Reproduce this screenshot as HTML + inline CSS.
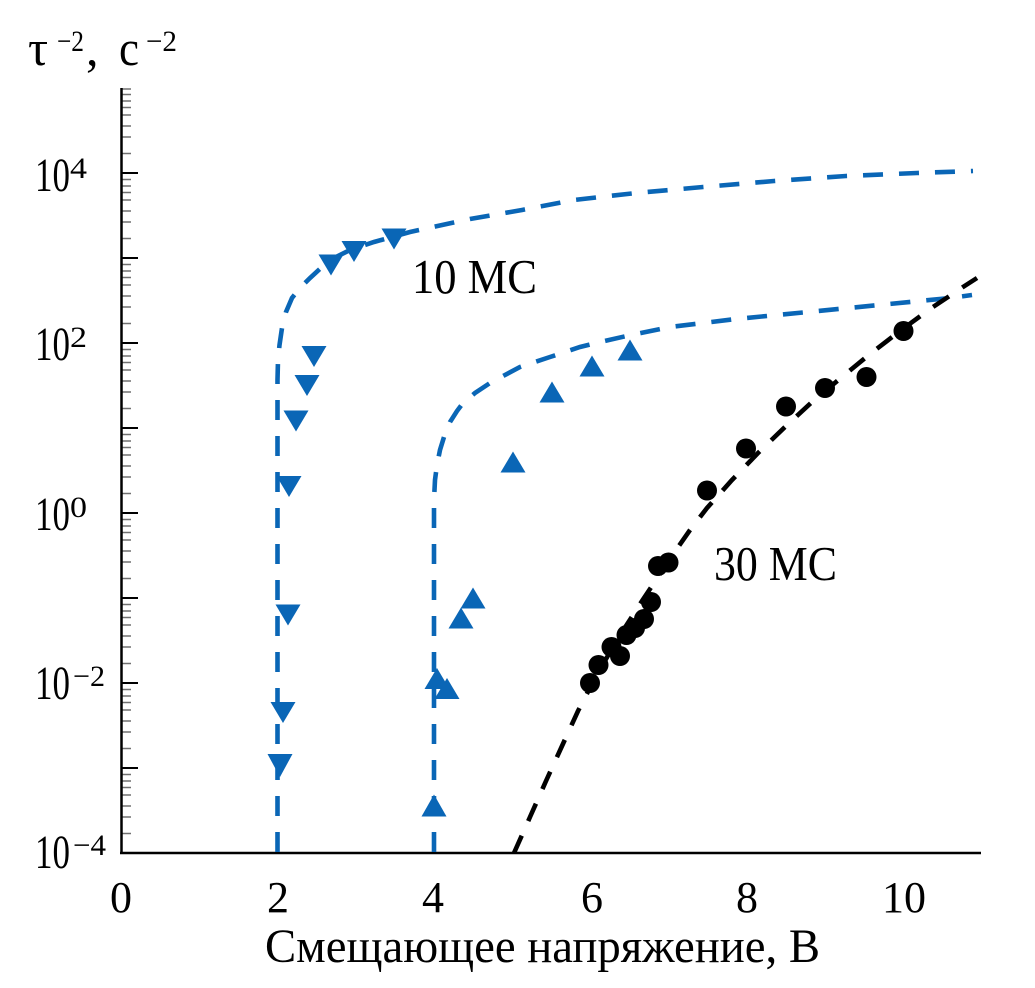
<!DOCTYPE html>
<html>
<head>
<meta charset="utf-8">
<style>
  html, body { margin:0; padding:0; background:#fff; }
  svg { display:block; }
  text { font-family: "Liberation Serif", "DejaVu Serif", serif; fill:#000; }
</style>
</head>
<body>
<svg width="1035" height="988" viewBox="0 0 1035 988" xmlns="http://www.w3.org/2000/svg">
  <rect x="0" y="0" width="1035" height="988" fill="#fff"/>

  <!-- Y axis title -->
  <text x="28" y="65" font-size="50">τ</text>
  <text x="57" y="51" font-size="30" textLength="27" lengthAdjust="spacingAndGlyphs">−2</text>
  <text x="86" y="65" font-size="50">,</text>
  <text x="119" y="65" font-size="50" textLength="20" lengthAdjust="spacingAndGlyphs">с</text>
  <text x="146" y="51" font-size="30" textLength="31" lengthAdjust="spacingAndGlyphs">−2</text>

  <!-- Y tick labels -->
  <g font-size="48">
    <text x="35" y="191" textLength="35" lengthAdjust="spacingAndGlyphs">10</text>
    <text x="35" y="360" textLength="35" lengthAdjust="spacingAndGlyphs">10</text>
    <text x="35" y="530" textLength="35" lengthAdjust="spacingAndGlyphs">10</text>
    <text x="35" y="699" textLength="35" lengthAdjust="spacingAndGlyphs">10</text>
    <text x="35" y="868" textLength="35" lengthAdjust="spacingAndGlyphs">10</text>
  </g>
  <g font-size="30">
    <text x="70" y="178" textLength="17" lengthAdjust="spacingAndGlyphs">4</text>
    <text x="70" y="347" textLength="17" lengthAdjust="spacingAndGlyphs">2</text>
    <text x="70" y="517" textLength="17" lengthAdjust="spacingAndGlyphs">0</text>
    <text x="73" y="686" textLength="32" lengthAdjust="spacingAndGlyphs">−2</text>
    <text x="73" y="855" textLength="33" lengthAdjust="spacingAndGlyphs">−4</text>
  </g>

  <!-- X tick labels -->
  <g font-size="44" text-anchor="middle">
    <text x="121" y="912">0</text>
    <text x="278" y="912">2</text>
    <text x="433" y="912">4</text>
    <text x="592" y="912">6</text>
    <text x="747" y="912">8</text>
    <text x="904" y="912">10</text>
  </g>

  <!-- X axis title -->
  <text x="265" y="962" font-size="48" textLength="555" lengthAdjust="spacingAndGlyphs">Смещающее напряжение, В</text>

  <!-- Annotations -->
  <text x="412" y="293" font-size="49" textLength="125" lengthAdjust="spacingAndGlyphs">10 МС</text>
  <text x="714" y="580" font-size="49" textLength="123" lengthAdjust="spacingAndGlyphs">30 МС</text>

  <!-- Minor ticks -->
  <g stroke="#707070" stroke-width="1.6">
    <path d="
      M121 833.5H131 M121 817H131 M121 806H131 M121 795H131 M121 787.5H131 M121 781H131 M121 774.5H131
      M121 748.5H131 M121 732H131 M121 721H131 M121 710H131 M121 702.5H131 M121 696H131 M121 689.5H131
      M121 663.5H131 M121 647H131 M121 636H131 M121 625H131 M121 617.5H131 M121 611H131 M121 604.5H131
      M121 578.5H131 M121 562H131 M121 551H131 M121 540H131 M121 532.5H131 M121 526H131 M121 519.5H131
      M121 493.5H131 M121 477H131 M121 466H131 M121 455H131 M121 447.5H131 M121 441H131 M121 434.5H131
      M121 408.5H131 M121 392H131 M121 381H131 M121 370H131 M121 362.5H131 M121 356H131 M121 349.5H131
      M121 323.5H131 M121 307H131 M121 296H131 M121 285H131 M121 277.5H131 M121 271H131 M121 264.5H131
      M121 238.5H131 M121 222H131 M121 211H131 M121 200H131 M121 192.5H131 M121 186H131 M121 179.5H131
      M121 153.5H131 M121 137H131 M121 126H131 M121 115H131 M121 107.5H131 M121 101H131 M121 94.5H131
      M121 89H131"/>
  </g>
  <!-- Major ticks -->
  <g stroke="#000" stroke-width="2">
    <path d="M121 768H138 M121 683H138 M121 598H138 M121 513H138 M121 428H138 M121 343H138 M121 258H138 M121 173H138"/>
  </g>

  <!-- Axes -->
  <line x1="121.5" y1="88" x2="121.5" y2="854" stroke="#000" stroke-width="2.5"/>
  <line x1="120" y1="853" x2="981" y2="853" stroke="#000" stroke-width="2.5"/>

  <!-- Blue dashed curves -->
  <g fill="none" stroke="#0a66b6" stroke-width="4.6" stroke-dasharray="20 16">
    <polyline points="277.5,852 277.5,380 278,360 279.5,345 282,328 286,312 292,298 300,288 310,278 323,266 336,257 350,250 374,242 410,232 470,219 522,210 574,200 636,193 703,187 774,181 846,176 917,173 973,171"/>
    <polyline points="434,852 434,500 435,480 437,465 440,450 444,437 450,422 457,411 463,403 475,393 490,383 505,375 520,367 550,357 580,347 600,342 631,335 670,327 736,319 808,312 879,305 950,298 972,295"/>
  </g>

  <!-- Black dashed curve -->
  <polyline fill="none" stroke="#000" stroke-width="4.6" stroke-dasharray="19 16"
    points="514,853 530,817 546,781 562,746 578,711 594,680 610,652 626,626 642,601 658,577 674,553 690,530 707,508 732,480 758,453 786,426 813,401 842,377 870,354 900,331 930,309 963,287 977,278"/>

  <!-- Down triangles (10 ms) -->
  <g fill="#0a66b6">
    <polygon points="381.5,228.5 406.5,228.5 394,249.5"/>
    <polygon points="341.5,241 366.5,241 354,262"/>
    <polygon points="318.5,254.5 343.5,254.5 331,275.5"/>
    <polygon points="301.5,346 326.5,346 314,367"/>
    <polygon points="294.5,375 319.5,375 307,396"/>
    <polygon points="283.5,410.5 308.5,410.5 296,431.5"/>
    <polygon points="276.5,476 301.5,476 289,497"/>
    <polygon points="275.5,604.5 300.5,604.5 288,625.5"/>
    <polygon points="270.5,702 295.5,702 283,723"/>
    <polygon points="267.5,754 292.5,754 280,777"/>
  </g>

  <!-- Up triangles (4 V curve) -->
  <g fill="#0a66b6">
    <polygon points="460.5,608.5 485.5,608.5 473,587.5"/>
    <polygon points="448.5,628.5 473.5,628.5 461,607.5"/>
    <polygon points="424.5,689 449.5,689 437,668"/>
    <polygon points="434.5,699 459.5,699 447,678"/>
    <polygon points="421.5,816.5 446.5,816.5 434,794.5"/>
    <polygon points="539.5,402.5 564.5,402.5 552,381.5"/>
    <polygon points="500.5,472.5 525.5,472.5 513,451.5"/>
    <polygon points="579.5,376.5 604.5,376.5 592,355.5"/>
    <polygon points="617.5,360.5 642.5,360.5 630,339.5"/>
  </g>

  <!-- Black dots -->
  <g fill="#000">
    <circle cx="590" cy="683" r="10"/>
    <circle cx="598.5" cy="665" r="10"/>
    <circle cx="611.5" cy="647" r="10"/>
    <circle cx="620" cy="656" r="10"/>
    <circle cx="626.5" cy="635" r="10"/>
    <circle cx="635" cy="628" r="10"/>
    <circle cx="644" cy="619" r="10"/>
    <circle cx="651" cy="602" r="10"/>
    <circle cx="658" cy="566" r="10"/>
    <circle cx="668.5" cy="562.5" r="10"/>
    <circle cx="707" cy="490.5" r="10"/>
    <circle cx="746" cy="448.5" r="10"/>
    <circle cx="786" cy="406.5" r="10"/>
    <circle cx="825" cy="388" r="10"/>
    <circle cx="866.5" cy="377" r="10"/>
    <circle cx="903.5" cy="331" r="10"/>
  </g>
</svg>
</body>
</html>
